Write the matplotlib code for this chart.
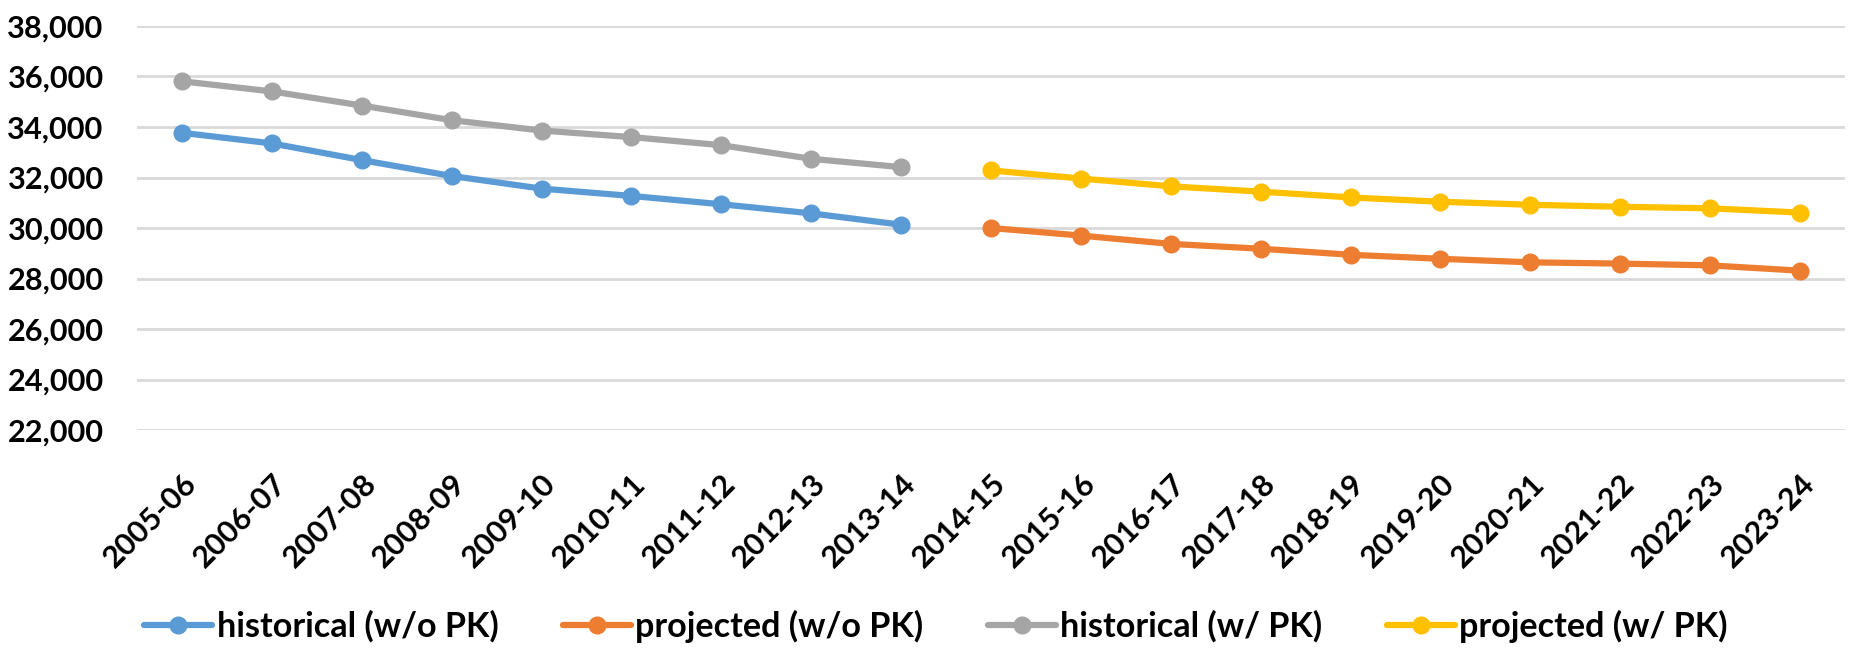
import matplotlib
matplotlib.use("Agg")
import matplotlib.pyplot as plt
import numpy as np

categories = ["2005-06", "2006-07", "2007-08", "2008-09", "2009-10", "2010-11",
              "2011-12", "2012-13", "2013-14", "2014-15", "2015-16", "2016-17",
              "2017-18", "2018-19", "2019-20", "2020-21", "2021-22", "2022-23",
              "2023-24"]
nan = np.nan
hist_wo_pk = [33770, 33350, 32690, 32060, 31560, 31270, 30940, 30580, 30130,
              nan, nan, nan, nan, nan, nan, nan, nan, nan, nan]
proj_wo_pk = [nan, nan, nan, nan, nan, nan, nan, nan, nan,
              30000, 29700, 29370, 29180, 28940, 28780, 28640, 28590, 28520, 28310]
hist_w_pk = [35810, 35410, 34850, 34270, 33860, 33600, 33280, 32740, 32410,
             nan, nan, nan, nan, nan, nan, nan, nan, nan, nan]
proj_w_pk = [nan, nan, nan, nan, nan, nan, nan, nan, nan,
             32280, 31960, 31650, 31440, 31210, 31040, 30920, 30840, 30780, 30610]
yticks = list(range(22000, 38001, 2000))

plt.rcParams['font.family'] = ['Lato', 'DejaVu Sans']
plt.rcParams['font.weight'] = 'bold'

W, H = 1854, 649
fig = plt.figure(figsize=(W / 100, H / 100), dpi=100)
renderer = fig.canvas.get_renderer()


def fit_size(text, target_px, base=20.0):
    t = fig.text(0, 0, text, fontsize=base, fontweight='bold')
    w = t.get_window_extent(renderer).width
    t.remove()
    return base * target_px / w


tick_fs = fit_size("38,000", 97)
leg_fs = fit_size("historical (w/o PK)", 281)

ax = fig.add_axes([137 / W, 1 - 430 / H, (1845 - 137) / W, (430 - 26) / H])

x = np.arange(len(categories))
series = [
    (hist_wo_pk, "#5B9BD5", "historical (w/o PK)"),
    (proj_wo_pk, "#ED7D31", "projected (w/o PK)"),
    (hist_w_pk, "#A5A5A5", "historical (w/ PK)"),
    (proj_w_pk, "#FFC000", "projected (w/ PK)"),
]
for vals, col, lab in series:
    ax.plot(x, vals, color=col, lw=4.5, marker='o', ms=12, label=lab,
            solid_capstyle='round')

ax.set_xlim(-0.5, len(categories) - 0.5)
ax.set_ylim(22000, 38000)
ax.set_yticks(yticks)
ax.set_yticklabels([f"{v:,}" for v in yticks], fontsize=tick_fs, fontweight='bold')
ax.set_xticks(x)
ax.set_xticklabels(categories, fontsize=tick_fs, fontweight='bold', rotation=45,
                   ha='right', va='top', rotation_mode='anchor')
ax.tick_params(axis='x', length=0, pad=28)
ax.tick_params(axis='y', length=0, pad=24)
ax.grid(axis='y', color='#D9D9D9', lw=2)
ax.set_axisbelow(True)
for s in ax.spines.values():
    s.set_visible(False)

fig.legend(loc='center', bbox_to_anchor=(936 / W, 1 - 626 / H), ncol=4,
           frameon=False, handlelength=68 / (leg_fs * 100 / 72),
           handletextpad=0.12, columnspacing=1.9,
           prop={'weight': 'bold', 'size': leg_fs})

fig.savefig("out.png", dpi=100)
